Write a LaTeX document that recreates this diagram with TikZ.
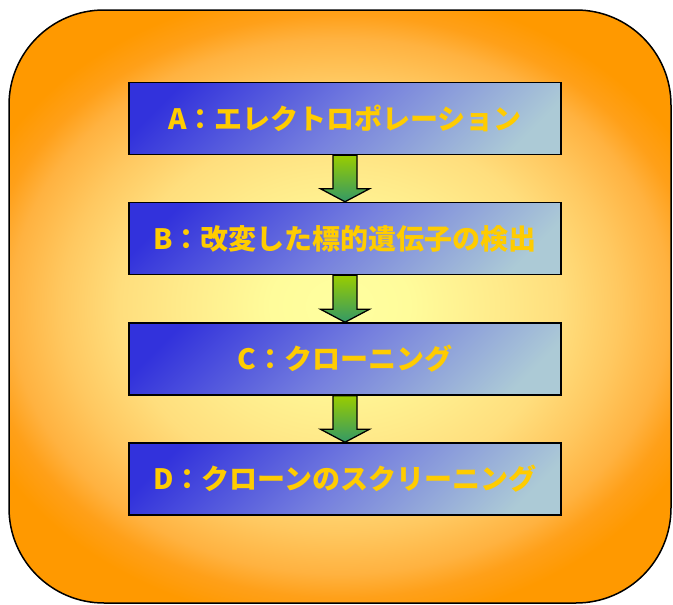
\documentclass[tikz,border=0pt]{standalone}
\usepackage{fontspec}
\newfontfamily\jp{Noto Sans CJK JP}
\usetikzlibrary{calc}
\definecolor{txtyellow}{RGB}{255,204,0}
\definecolor{gA}{RGB}{255,255,160}
\definecolor{gB}{RGB}{255,252,155}
\definecolor{gC}{RGB}{255,234,138}
\definecolor{gD}{RGB}{255,222,125}
\definecolor{gE}{RGB}{255,200,96}
\definecolor{gF}{RGB}{255,178,64}
\definecolor{gG}{RGB}{255,160,25}
\definecolor{orangeA}{RGB}{255,153,0}
\definecolor{boxblue}{RGB}{50,50,220}
\definecolor{boxmid}{RGB}{118,128,222}
\definecolor{boxpale}{RGB}{172,202,214}
\definecolor{grtop}{RGB}{153,204,0}
\definecolor{grbot}{RGB}{51,153,102}
\pgfdeclareradialshading{glow}{\pgfpoint{0bp}{0bp}}{color(0bp)=(gA); color(4.2bp)=(gB); color(9.9bp)=(gC); color(13.4bp)=(gD); color(17bp)=(gE); color(20.1bp)=(gF); color(21.9bp)=(gG); color(24bp)=(orangeA); color(50bp)=(orangeA)}
\pgfdeclarehorizontalshading{boxgrad}{100bp}{color(0bp)=(boxblue); color(22bp)=(boxblue); color(50bp)=(boxmid); color(78bp)=(boxpale); color(100bp)=(boxpale)}
\tikzset{
  stepbox/.style={draw=black, line width=1.5pt, minimum width=432pt, minimum height=72pt,
    inner sep=0pt, shading=boxgrad, shading angle=-45,
    font=\jp\bfseries\fontsize{28}{30}\selectfont, text=txtyellow},
  downarrow/.style={draw=black, line width=1.3pt, top color=grtop, bottom color=grbot, line join=miter},
  outerline/.style={draw=black, line width=1.5pt, rounded corners=95pt}
}
\begin{document}
\begin{tikzpicture}[x=1pt,y=-1pt]
\useasboundingbox (0,0) rectangle (673,605);
\begin{scope}
  \clip[rounded corners=95pt] (9,10) rectangle (671,603);
  \fill[orangeA] (0,0) rectangle (673,605);
  \path[shading=glow] (-70,-27) rectangle (750,639);
\end{scope}
\path[outerline] (9,10) rectangle (671,603);
\node[stepbox] (A) at (345,118.5) {A：エレクトロポレーション};
\node[stepbox] (B) at (345,238.5) {B：改変した標的遺伝子の検出};
\node[stepbox] (C) at (345,359) {C：クローニング};
\node[stepbox] (D) at (345,479) {D：クローンのスクリーニング\hspace{22pt}};
\foreach \u/\v in {A/B, B/C, C/D}{
  \path[downarrow] ($(\u.south)+(-12,0)$) -- ($(\u.south)+(12,0)$) -- ($(\v.north)+(12,-13)$)
    -- ($(\v.north)+(24.5,-13)$) -- (\v.north) -- ($(\v.north)+(-24.5,-13)$)
    -- ($(\v.north)+(-12,-13)$) -- cycle;
}
\end{tikzpicture}
\end{document}
